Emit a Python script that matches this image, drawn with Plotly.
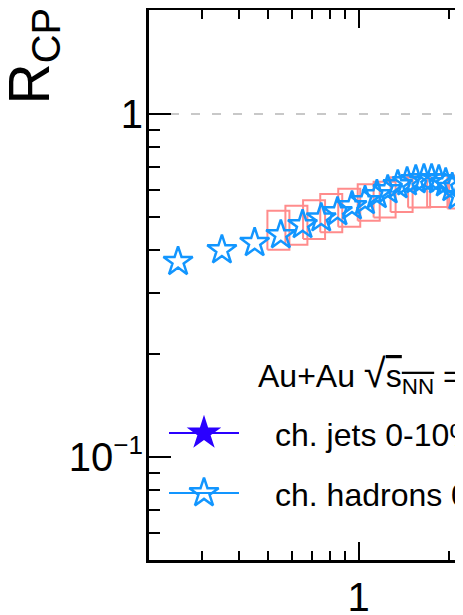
import math
import plotly.graph_objects as go

# ---------------- data ----------------
hadron_pt = [0.25, 0.35, 0.45, 0.55, 0.65, 0.75, 0.85, 0.95, 1.05, 1.15,
             1.25, 1.35, 1.45, 1.55, 1.65, 1.75, 1.85, 1.95, 2.05, 2.15]
hadron_rcp = [0.371, 0.401, 0.421, 0.444, 0.475, 0.497, 0.518, 0.539, 0.558, 0.581,
              0.600, 0.621, 0.633, 0.642, 0.646, 0.646, 0.642, 0.629, 0.609, 0.577]

box_pt = [0.54, 0.62, 0.71, 0.81, 0.93, 1.08, 1.22, 1.39, 1.59, 1.84, 2.15]
box_rcp = [0.462, 0.478, 0.496, 0.518, 0.537, 0.556, 0.567, 0.586, 0.600, 0.600, 0.596]
box_err = [0.060, 0.062, 0.064, 0.066, 0.068, 0.068, 0.068, 0.068, 0.066, 0.064, 0.066]

ref_level = 1.0

y_tickvals = [0.1, 1]
y_ticktext = ["10<sup><span style='font-size:26px'>\u22121</span></sup>", "1"]
y_minor = [0.06, 0.07, 0.08, 0.09, 0.2, 0.3, 0.4, 0.5, 0.6, 0.7, 0.8, 0.9]
x_tickvals = [1]
x_ticktext = ["1"]
x_minor = [0.3, 0.4, 0.5, 0.6, 0.7, 0.8, 0.9, 2]

header_text = ("Au+Au <span style='font-size:40px'>\u221a</span>"
               "<span style='text-decoration:overline'>s<sub>NN</sub></span> = 200 GeV")
legend_labels = ["ch. jets 0-10%/60-80%", "ch. hadrons 0-5%/60-80%"]

# ---------------- styling constants ----------------
FONT = "Liberation Sans, Arial, sans-serif"
OFF = 8                      # page body margin of the html page
W, H = 463 - OFF, 615 - OFF
ML, MR, MT = 149 - OFF, 0, 10 - OFF
MB = H - (560 - OFF)
PW, PH = W - ML - MR, H - MT - MB
X_RANGE = [math.log10(0.2), math.log10(0.2) + PW / 300.0]
Y_RANGE = [-1.3003, 0.3032]
BOX_HW = 11.0 / 300.0  # half width in decades

def px_to_paper_x(px):
    return (px - OFF - ML) / PW

def px_to_paper_y(py):
    return (H - MB - (py - OFF)) / PH

fig = go.Figure()

# systematic boxes
bx, by = [], []
for p, r, e in zip(box_pt, box_rcp, box_err):
    pl, pr = p / 10 ** BOX_HW, p * 10 ** BOX_HW
    lo, hi = r - e, r + e
    bx += [pl, pr, pr, pl, pl, None]
    by += [lo, lo, hi, hi, lo, None]
fig.add_trace(go.Scatter(x=bx, y=by, mode="lines",
                         line=dict(color="#ff8c8c", width=2),
                         hoverinfo="skip"))

# reference dashed line at R=1 (x2 spans the full width)
fig.add_trace(go.Scatter(x=[0, 1], y=[ref_level, ref_level], xaxis="x2", yaxis="y",
                         mode="lines", line=dict(color="#c8c8c8", width=2, dash="9px,12px"),
                         hoverinfo="skip"))

# hadrons
fig.add_trace(go.Scatter(x=hadron_pt, y=hadron_rcp, mode="markers",
                         marker=dict(symbol="star-open", size=22, color="#1296ff",
                                     line=dict(color="#1296ff", width=2.5)),
                         cliponaxis=False))

# legend (drawn on overlay axes with 0..1 ranges)
leg_x0, leg_x1, leg_xm = px_to_paper_x(169), px_to_paper_x(239), px_to_paper_x(204)
leg_y = [px_to_paper_y(433), px_to_paper_y(493)]
leg_colors = ["#2a00ff", "#1296ff"]
leg_symbols = ["star", "star-open"]
leg_sizes = [26, 22]
for i in range(2):
    fig.add_trace(go.Scatter(x=[leg_x0, leg_x1], y=[leg_y[i], leg_y[i]], xaxis="x2", yaxis="y2",
                             mode="lines", line=dict(color=leg_colors[i], width=2), hoverinfo="skip"))
    fig.add_trace(go.Scatter(x=[leg_xm], y=[leg_y[i]], xaxis="x2", yaxis="y2", mode="markers",
                             marker=dict(symbol=leg_symbols[i], size=leg_sizes[i], color=leg_colors[i],
                                         line=dict(color=leg_colors[i], width=2.5 if i else 0)),
                             hoverinfo="skip"))

annotations = [
    dict(text="R<sub>CP</sub>", xref="paper", yref="paper", x=px_to_paper_x(32), y=px_to_paper_y(7),
         xanchor="center", yanchor="top", textangle=-90, showarrow=False,
         font=dict(family=FONT, size=57, color="black"), borderpad=0),
    dict(text=header_text, xref="paper", yref="paper", x=px_to_paper_x(256), y=px_to_paper_y(375),
         xanchor="left", yanchor="middle", showarrow=False,
         font=dict(family=FONT, size=32, color="black")),
]
for i in range(2):
    annotations.append(dict(text=legend_labels[i], xref="paper", yref="paper",
                            x=px_to_paper_x(273), y=px_to_paper_y([435, 495][i]),
                            xanchor="left", yanchor="middle", showarrow=False,
                            font=dict(family=FONT, size=32, color="black")))

axis_common = dict(showline=True, linecolor="black", linewidth=3, showgrid=False, zeroline=False,
                   ticks="inside", tickcolor="black", tickwidth=2, automargin=False,
                   tickfont=dict(family=FONT, size=40, color="black"))

fig.update_layout(
    width=W, height=H,
    margin=dict(l=ML, r=MR, t=MT, b=MB, pad=0, autoexpand=False),
    plot_bgcolor="white", paper_bgcolor="white",
    showlegend=False,
    font=dict(family=FONT, color="black"),
    xaxis=dict(type="log", range=X_RANGE, mirror="ticks", ticklen=18,
               tickvals=x_tickvals, ticktext=x_ticktext, ticklabelstandoff=0,
               minor=dict(tickvals=x_minor, ticks="inside", ticklen=9, tickwidth=2,
                          tickcolor="black", showgrid=False),
               **axis_common),
    yaxis=dict(type="log", range=Y_RANGE, mirror=False, ticklen=22,
               tickvals=y_tickvals, ticktext=y_ticktext, ticklabelstandoff=-5,
               minor=dict(tickvals=y_minor, ticks="inside", ticklen=11, tickwidth=2,
                          tickcolor="black", showgrid=False),
               **axis_common),
    xaxis2=dict(overlaying="x", range=[0, 1], visible=False, fixedrange=True),
    yaxis2=dict(overlaying="y", range=[0, 1], visible=False, fixedrange=True),
    annotations=annotations,
)

fig.write_html("out.html")
